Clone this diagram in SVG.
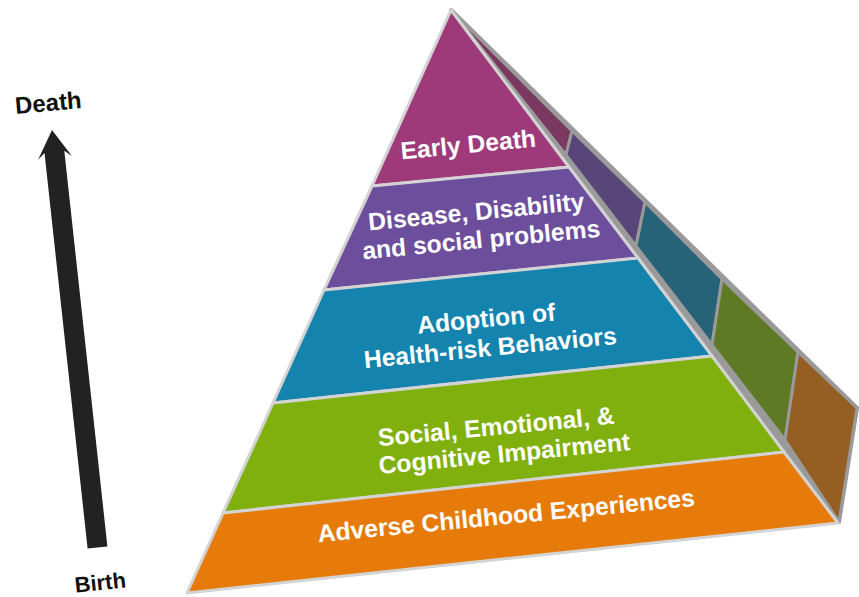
<svg xmlns="http://www.w3.org/2000/svg" width="859" height="597" viewBox="0 0 859 597">
<style>
.side{stroke:#9a9a9a;stroke-width:3;stroke-linejoin:round}
.band{stroke:#d3d3d3;stroke-width:3;stroke-linejoin:round}
.lbl{font-family:"Liberation Sans",Arial,sans-serif;font-weight:bold;font-size:24.7px;fill:#ffffff;text-anchor:middle}
.axis{font-family:"Liberation Sans",Arial,sans-serif;font-weight:bold;font-size:22px;fill:#111111;text-anchor:middle}
</style>
<rect width="859" height="597" fill="#ffffff"/>
<g id="arrow">
<polygon points="52,130 71.9,156 64.3,150.8 107.4,546.4 87.6,548.6 44.5,153 38.1,159.7" fill="#222222"/>
<text class="axis" x="49" y="111" font-size="24" transform="rotate(-5 49 111)" style="font-size:24px">Death</text>
<text class="axis" x="101" y="590" transform="rotate(-6 101 590)">Birth</text>
</g>
<g id="side-face">
<polygon points="451,10 857,408 839,522" fill="#9a9a9a" stroke="#9a9a9a" stroke-width="4" stroke-linejoin="round"/>
<polygon class="side" points="451,10 572,131 566,155" fill="#7b3962"/>
<polygon class="side" points="566,155 572,131 645,202 636,246" fill="#584679"/>
<polygon class="side" points="636,246 645,202 722,279 712,345" fill="#266379"/>
<polygon class="side" points="712,345 722,279 798,352 785,440" fill="#5f7a24"/>
<polygon class="side" points="785,440 798,352 857,408 839,522" fill="#955e22"/>
</g>
<g id="early-death">
<polygon class="band" points="451,10 569,167 372,186" fill="#9e3a7a"/>
<text class="lbl" x="469" y="153" transform="rotate(-5.5 469 153)">Early Death</text>
</g>
<g id="disease">
<polygon class="band" points="372,186 569,167 638,258 324,290" fill="#6d4e9c"/>
<text class="lbl" x="477" y="220" transform="rotate(-5.5 477 220)">Disease, Disability</text>
<text class="lbl" x="482" y="248" transform="rotate(-5.5 482 248)">and social problems</text>
</g>
<g id="adoption">
<polygon class="band" points="324,290 638,258 712,356 273,403" fill="#1483ad"/>
<text class="lbl" x="487" y="327" transform="rotate(-5.5 487 327)">Adoption of</text>
<text class="lbl" x="491" y="356" transform="rotate(-5.5 491 356)">Health-risk Behaviors</text>
</g>
<g id="impairment">
<polygon class="band" points="273,403 712,356 784,452 223,513" fill="#7fb00e"/>
<text class="lbl" x="497" y="435" transform="rotate(-5.5 497 435)">Social, Emotional, &amp;</text>
<text class="lbl" x="505" y="462" transform="rotate(-5.5 505 462)">Cognitive Impairment</text>
</g>
<g id="ace">
<polygon class="band" points="223,513 784,452 838,523 187,593" fill="#e67b0a"/>
<text class="lbl" x="507" y="524" transform="rotate(-5.5 507 524)">Adverse Childhood Experiences</text>
</g>
</svg>
